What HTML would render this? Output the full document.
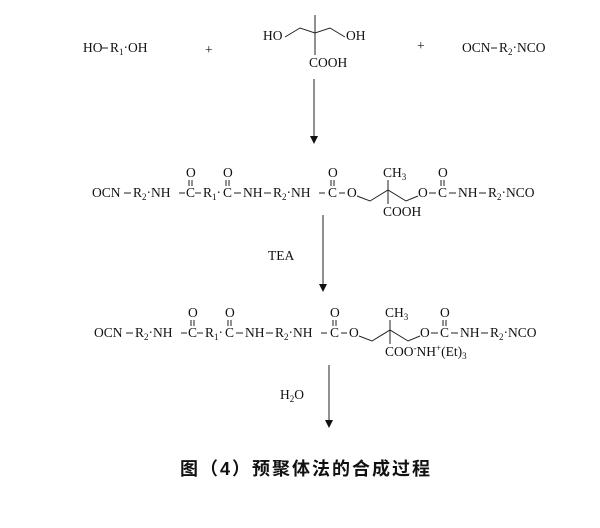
<!DOCTYPE html>
<html><head><meta charset="utf-8"><style>
html,body{margin:0;padding:0;background:#fff;width:600px;height:528px;overflow:hidden}
svg{display:block}
text{font-family:"Liberation Serif",serif;font-size:13.5px;fill:#111}
.s{font-size:9px}
.cap{font-family:"Liberation Sans","Noto Sans CJK SC",sans-serif;font-size:18px;font-weight:bold;letter-spacing:2px}
line,polyline{stroke:#222;stroke-width:1;fill:none}
</style></head><body>
<svg width="600" height="528" viewBox="0 0 600 528">
<text x="83" y="52">HO</text><line x1="102" y1="48" x2="108" y2="48"/>
<text x="110" y="52">R<tspan class="s" dy="3">1</tspan><tspan dy="-3">·OH</tspan></text>
<text x="205" y="54">+</text>
<text x="263" y="40">HO</text>
<polyline points="285,37 300,28 315,33 330,28 345,37"/>
<line x1="315" y1="15" x2="315" y2="55"/>
<text x="346" y="40">OH</text>
<text x="309" y="67">COOH</text>
<text x="417" y="50">+</text>
<text x="462" y="52">OCN</text><line x1="491" y1="48" x2="497" y2="48"/>
<text x="499" y="52">R<tspan class="s" dy="3">2</tspan><tspan dy="-3">·NCO</tspan></text>
<line x1="314" y1="79" x2="314" y2="138"/><polygon points="310,136 318,136 314,144" fill="#111"/>
<g id="r2">
<text x="92" y="197">OCN</text><line x1="124" y1="193" x2="131" y2="193"/>
<text x="133" y="197">R<tspan class="s" dy="3">2</tspan><tspan dy="-3">·NH</tspan></text><line x1="179" y1="193" x2="185" y2="193"/>
<text x="186" y="197">C</text><text x="186" y="177">O</text><line x1="189" y1="180" x2="189" y2="186"/><line x1="192" y1="180" x2="192" y2="186"/>
<line x1="195" y1="193" x2="201" y2="193"/>
<text x="203" y="197">R<tspan class="s" dy="3">1</tspan><tspan dy="-3">·</tspan></text>
<text x="223" y="197">C</text><text x="223" y="177">O</text><line x1="226" y1="180" x2="226" y2="186"/><line x1="229" y1="180" x2="229" y2="186"/>
<line x1="234" y1="193" x2="241" y2="193"/>
<text x="243" y="197">NH</text><line x1="264" y1="193" x2="271" y2="193"/>
<text x="273" y="197">R<tspan class="s" dy="3">2</tspan><tspan dy="-3">·NH</tspan></text><line x1="319" y1="193" x2="325" y2="193"/>
<text x="328" y="197">C</text><text x="328" y="177">O</text><line x1="331" y1="180" x2="331" y2="186"/><line x1="334" y1="180" x2="334" y2="186"/>
<line x1="339" y1="193" x2="345" y2="193"/>
<text x="347" y="197">O</text>
<polyline points="357,196 370,201 388,190 406,201 418,196"/>
<line x1="388" y1="180" x2="388" y2="204"/>
<text x="383" y="177">CH<tspan class="s" dy="3">3</tspan></text>
<text x="383" y="216">COOH</text>
<text x="418" y="197">O</text><line x1="429" y1="193" x2="436" y2="193"/>
<text x="438" y="197">C</text><text x="438" y="177">O</text><line x1="441" y1="180" x2="441" y2="186"/><line x1="444" y1="180" x2="444" y2="186"/>
<line x1="449" y1="193" x2="456" y2="193"/>
<text x="458" y="197">NH</text><line x1="479" y1="193" x2="486" y2="193"/>
<text x="488" y="197">R<tspan class="s" dy="3">2</tspan><tspan dy="-3">·NCO</tspan></text>
</g>
<line x1="323" y1="215" x2="323" y2="286"/><polygon points="319,284 327,284 323,292" fill="#111"/>
<text x="268" y="260">TEA</text>
<g transform="translate(2,140)">
<text x="92" y="197">OCN</text><line x1="124" y1="193" x2="131" y2="193"/>
<text x="133" y="197">R<tspan class="s" dy="3">2</tspan><tspan dy="-3">·NH</tspan></text><line x1="179" y1="193" x2="185" y2="193"/>
<text x="186" y="197">C</text><text x="186" y="177">O</text><line x1="189" y1="180" x2="189" y2="186"/><line x1="192" y1="180" x2="192" y2="186"/>
<line x1="195" y1="193" x2="201" y2="193"/>
<text x="203" y="197">R<tspan class="s" dy="3">1</tspan><tspan dy="-3">·</tspan></text>
<text x="223" y="197">C</text><text x="223" y="177">O</text><line x1="226" y1="180" x2="226" y2="186"/><line x1="229" y1="180" x2="229" y2="186"/>
<line x1="234" y1="193" x2="241" y2="193"/>
<text x="243" y="197">NH</text><line x1="264" y1="193" x2="271" y2="193"/>
<text x="273" y="197">R<tspan class="s" dy="3">2</tspan><tspan dy="-3">·NH</tspan></text><line x1="319" y1="193" x2="325" y2="193"/>
<text x="328" y="197">C</text><text x="328" y="177">O</text><line x1="331" y1="180" x2="331" y2="186"/><line x1="334" y1="180" x2="334" y2="186"/>
<line x1="339" y1="193" x2="345" y2="193"/>
<text x="347" y="197">O</text>
<polyline points="357,196 370,201 388,190 406,201 418,196"/>
<line x1="388" y1="180" x2="388" y2="204"/>
<text x="383" y="177">CH<tspan class="s" dy="3">3</tspan></text>
<text x="383" y="216">COO<tspan class="s" dy="-5">-</tspan><tspan dy="5">NH</tspan><tspan class="s" dy="-5">+</tspan><tspan dy="5">(Et)</tspan><tspan class="s" dy="3">3</tspan></text>
<text x="418" y="197">O</text><line x1="429" y1="193" x2="436" y2="193"/>
<text x="438" y="197">C</text><text x="438" y="177">O</text><line x1="441" y1="180" x2="441" y2="186"/><line x1="444" y1="180" x2="444" y2="186"/>
<line x1="449" y1="193" x2="456" y2="193"/>
<text x="458" y="197">NH</text><line x1="479" y1="193" x2="486" y2="193"/>
<text x="488" y="197">R<tspan class="s" dy="3">2</tspan><tspan dy="-3">·NCO</tspan></text>
</g>
<line x1="329" y1="365" x2="329" y2="422"/><polygon points="325,420 333,420 329,428" fill="#111"/>
<text x="280" y="399">H<tspan class="s" dy="3">2</tspan><tspan dy="-3">O</tspan></text>
<text class="cap" x="180" y="475">图（4）预聚体法的合成过程</text>
</svg>
</body></html>
